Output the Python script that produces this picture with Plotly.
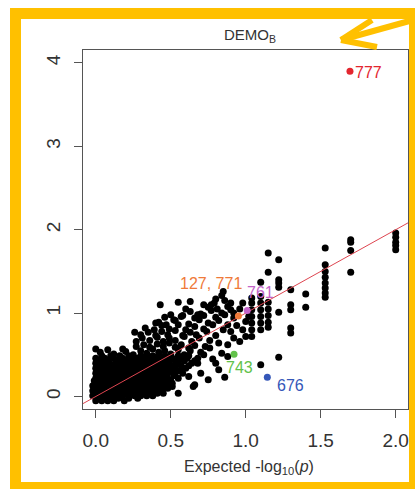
import plotly.graph_objects as go

# ---------------- data ----------------
# dense core of the QQ cloud, row by row: observed level and expected values on that row
core_obs_levels = [-0.05, -0.02, 0.01, 0.04, 0.07, 0.10, 0.13, 0.16, 0.19, 0.22, 0.25,
                   0.28, 0.31, 0.34, 0.37, 0.40, 0.43, 0.46, 0.49]
core_exp_rows = [
    [0.00, 0.04, 0.08, 0.12, 0.19],
    [0.02, 0.06, 0.10, 0.15, 0.22, 0.28],
    [-0.02, 0.02, 0.06, 0.10, 0.14, 0.18, 0.22, 0.26, 0.30, 0.34, 0.38],
    [0.00, 0.04, 0.08, 0.12, 0.16, 0.20, 0.24, 0.28, 0.32, 0.36, 0.41, 0.45],
    [-0.02, 0.02, 0.06, 0.10, 0.14, 0.18, 0.22, 0.26, 0.30, 0.34, 0.38, 0.43],
    [0.00, 0.04, 0.08, 0.12, 0.16, 0.20, 0.24, 0.28, 0.32, 0.36, 0.40, 0.44, 0.48],
    [-0.02, 0.02, 0.06, 0.10, 0.14, 0.18, 0.22, 0.26, 0.30, 0.34, 0.38, 0.42, 0.46],
    [0.00, 0.04, 0.08, 0.12, 0.16, 0.20, 0.24, 0.28, 0.32, 0.36, 0.40, 0.44, 0.48, 0.51],
    [-0.01, 0.02, 0.06, 0.10, 0.14, 0.18, 0.22, 0.26, 0.30, 0.34, 0.38, 0.42, 0.46, 0.50],
    [0.00, 0.04, 0.08, 0.12, 0.16, 0.20, 0.24, 0.28, 0.32, 0.36, 0.40, 0.44, 0.48, 0.55],
    [0.02, 0.06, 0.10, 0.14, 0.18, 0.22, 0.26, 0.30, 0.34, 0.38, 0.42, 0.46, 0.52],
    [0.00, 0.04, 0.08, 0.12, 0.16, 0.20, 0.24, 0.28, 0.32, 0.36, 0.40, 0.44, 0.48, 0.53, 0.58],
    [0.02, 0.06, 0.10, 0.14, 0.18, 0.22, 0.26, 0.30, 0.34, 0.38, 0.42, 0.46, 0.50, 0.56],
    [0.00, 0.04, 0.08, 0.12, 0.16, 0.20, 0.24, 0.28, 0.32, 0.36, 0.40, 0.44, 0.48, 0.53, 0.60],
    [0.02, 0.06, 0.10, 0.14, 0.18, 0.22, 0.26, 0.30, 0.34, 0.38, 0.42, 0.46, 0.51, 0.57, 0.62],
    [0.00, 0.05, 0.09, 0.13, 0.17, 0.21, 0.25, 0.29, 0.33, 0.37, 0.41, 0.45, 0.49, 0.55, 0.64],
    [0.02, 0.08, 0.15, 0.20, 0.24, 0.28, 0.32, 0.36, 0.40, 0.44, 0.48, 0.53, 0.59, 0.66],
    [0.00, 0.06, 0.12, 0.18, 0.23, 0.27, 0.31, 0.35, 0.39, 0.43, 0.47, 0.51, 0.56, 0.61, 0.68],
    [0.04, 0.10, 0.16, 0.22, 0.30, 0.34, 0.38, 0.42, 0.46, 0.50, 0.55, 0.62],
]

# upper part of the diagonal band (irregular points)
band_exp = [0.03, 0.12, 0.20, 0.25, 0.30, 0.34, 0.38, 0.42, 0.46, 0.50, 0.55, 0.59, 0.63, 0.70,
            0.00, 0.08, 0.18, 0.27, 0.32, 0.36, 0.41, 0.45, 0.49, 0.53, 0.57, 0.62, 0.66, 0.73,
            0.27, 0.31, 0.36, 0.41, 0.45, 0.49, 0.53, 0.59, 0.64, 0.69, 0.76,
            0.30, 0.35, 0.40, 0.44, 0.48, 0.53, 0.58, 0.63, 0.67, 0.74, 0.80,
            0.26, 0.33, 0.39, 0.44, 0.49, 0.55, 0.60, 0.66, 0.72, 0.78, 0.85,
            0.42, 0.47, 0.53, 0.62, 0.69, 0.75, 0.82, 0.88,
            0.40, 0.46, 0.52, 0.58, 0.66, 0.72, 0.80, 0.86, 0.92,
            0.57, 0.63, 0.70, 0.77, 0.84, 0.90,
            0.50, 0.60, 0.68, 0.75, 0.81, 0.88,
            0.55, 0.72, 0.79, 0.86,
            0.43, 0.63, 0.77, 0.80,
            0.84, 0.85]
band_obs = [0.53, 0.51, 0.54, 0.50, 0.55, 0.52, 0.57, 0.53, 0.55, 0.51, 0.56, 0.50, 0.55, 0.53,
            0.57, 0.56, 0.57, 0.60, 0.62, 0.59, 0.63, 0.60, 0.64, 0.59, 0.62, 0.58, 0.61, 0.60,
            0.66, 0.70, 0.67, 0.71, 0.66, 0.70, 0.67, 0.72, 0.66, 0.70, 0.67,
            0.74, 0.77, 0.73, 0.78, 0.74, 0.79, 0.73, 0.77, 0.74, 0.78, 0.73,
            0.77, 0.82, 0.80, 0.85, 0.81, 0.86, 0.80, 0.84, 0.81, 0.86, 0.80,
            0.89, 0.86, 0.91, 0.87, 0.92, 0.88, 0.91, 0.86,
            0.88, 0.95, 0.92, 0.97, 0.94, 0.97, 0.95, 0.98, 0.94,
            0.96, 1.02, 0.99, 1.03, 1.00, 1.04,
            0.98, 1.05, 0.98, 1.07, 1.05, 1.08,
            1.13, 1.10, 1.12, 1.15,
            1.10, 1.14, 1.10, 1.17,
            1.21, 1.26]

# scattered points below / around the diagonal band
mid_exp = [0.38, 0.44, 0.55, 0.65, 0.51, 0.66, 0.82, 0.75, 0.62, 0.53, 0.86, 0.70,
           0.78, 0.84, 0.76, 0.82, 0.88, 0.80, 0.72, 0.68,
           0.88, 0.92, 0.96, 0.90, 0.94, 0.98, 1.00, 1.00, 1.02, 0.96, 0.92, 0.98, 0.90,
           1.04, 1.04, 1.04, 1.04, 1.04, 1.04, 1.04]
mid_obs = [0.02, 0.10, 0.04, 0.12, 0.12, 0.14, 0.32, 0.20, 0.24, 0.32, 0.23, 0.28,
           0.45, 0.52, 0.58, 0.64, 0.48, 0.40, 0.50, 0.40,
           0.62, 0.70, 0.66, 0.78, 0.85, 0.80, 0.72, 0.90, 0.96, 1.05, 1.00, 1.12, 1.12,
           0.80, 0.88, 0.96, 1.04, 1.12, 1.18, 0.72]

# upper tail (tied expected values form columns)
tail_exp = [1.10, 1.10, 1.10, 1.10, 1.10, 1.10, 1.10, 1.10,
            1.15, 1.15, 1.15, 1.15, 1.15, 1.15, 1.15,
            1.22, 1.22, 1.22, 1.22, 1.22, 1.22,
            1.30, 1.30, 1.30, 1.30, 1.30,
            1.40, 1.40,
            1.53, 1.53, 1.53, 1.53, 1.53, 1.53, 1.53, 1.53,
            1.70, 1.70, 1.70, 1.70,
            2.00, 2.00, 2.00, 2.00, 2.00]
tail_obs = [0.80, 0.88, 0.96, 1.04, 1.12, 1.20, 1.37, 0.38,
            0.83, 0.89, 0.97, 1.05, 1.13, 1.49, 1.72,
            1.64, 1.40, 1.36, 1.31, 1.01, 0.47,
            1.28, 1.10, 1.04, 0.82, 0.76,
            1.23, 1.07,
            1.78, 1.58, 1.50, 1.43, 1.36, 1.30, 1.24, 1.19,
            1.88, 1.85, 1.75, 1.49,
            1.96, 1.91, 1.85, 1.81, 1.76]

# highlighted SNPs
hl_ids = ["777", "127, 771", "761", "743", "676"]
hl_exp = [1.695, 0.951, 1.01, 0.922, 1.144]
hl_obs = [3.90, 0.965, 1.03, 0.506, 0.23]
hl_colors = ["#e3262f", "#ef7a3a", "#c364c8", "#62c24a", "#3557b8"]
hl_label_exp = [1.82, 0.77, 1.10, 0.96, 1.30]
hl_label_obs = [3.89, 1.35, 1.25, 0.35, 0.13]

x_ticks = [0.0, 0.5, 1.0, 1.5, 2.0]
y_ticks = [0, 1, 2, 3, 4]
x_range = [-0.085, 2.082]
y_range = [-0.15, 4.155]

# ---------------- figure ----------------
W, H = 416, 489
ML, MR, MT, MB = 83, 8, 50, 80
PW, PH = W - ML - MR, H - MT - MB


def px(xp):
    return (xp - ML) / PW


def py(yp):
    return (H - MB - yp) / PH


core_x, core_y = [], []
for lvl, row in zip(core_obs_levels, core_exp_rows):
    for v in row:
        core_x.append(v)
        core_y.append(lvl)

all_x = core_x + band_exp + mid_exp + tail_exp
all_y = core_y + band_obs + mid_obs + tail_obs

font = "Liberation Sans, Arial, sans-serif"
fig = go.Figure()

fig.add_trace(go.Scatter(x=all_x, y=all_y, mode="markers",
                         marker=dict(size=7, color="black"), showlegend=False))

fig.add_trace(go.Scatter(x=x_range, y=x_range, mode="lines",
                         line=dict(color="#de4550", width=1), showlegend=False))

fig.add_trace(go.Scatter(x=hl_exp, y=hl_obs, mode="markers",
                         marker=dict(size=7, color=hl_colors), showlegend=False))

yellow = "#FFC000"
shapes = [
    dict(type="rect", xref="paper", yref="paper", x0=px(10), x1=px(21), y0=py(489), y1=py(8),
         fillcolor=yellow, line=dict(width=0), layer="above"),
    dict(type="rect", xref="paper", yref="paper", x0=px(10), x1=px(415), y0=py(19), y1=py(8),
         fillcolor=yellow, line=dict(width=0), layer="above"),
    dict(type="rect", xref="paper", yref="paper", x0=px(409), x1=px(415), y0=py(489), y1=py(8),
         fillcolor=yellow, line=dict(width=0), layer="above"),
    dict(type="rect", xref="paper", yref="paper", x0=px(10), x1=px(415), y0=py(489), y1=py(482),
         fillcolor=yellow, line=dict(width=0), layer="above"),
    # arrow
    dict(type="line", xref="paper", yref="paper", x0=px(341), y0=py(40), x1=px(413), y1=py(20),
         line=dict(color=yellow, width=6), layer="above"),
    dict(type="line", xref="paper", yref="paper", x0=px(341), y0=py(40), x1=px(372), y1=py(20),
         line=dict(color=yellow, width=6), layer="above"),
    dict(type="line", xref="paper", yref="paper", x0=px(341), y0=py(40), x1=px(377), y1=py(47),
         line=dict(color=yellow, width=6), layer="above"),
]

annotations = [
    dict(text="DEMO<sub>B</sub>", xref="paper", yref="paper", x=px(250), y=py(36),
         showarrow=False, font=dict(family=font, size=15, color="#333"),
         xanchor="center", yanchor="middle"),
    dict(text="Expected -log<sub>10</sub>(<i>p</i>)", xref="paper", yref="paper",
         x=px(249), y=py(467), showarrow=False,
         font=dict(family=font, size=16, color="#333"), xanchor="center", yanchor="middle"),
]
for i in range(len(hl_ids)):
    annotations.append(dict(text=hl_ids[i], x=hl_label_exp[i], y=hl_label_obs[i],
                            xref="x", yref="y", showarrow=False,
                            font=dict(family=font, size=16, color=hl_colors[i]),
                            xanchor="center", yanchor="middle"))

axis_common = dict(showgrid=False, zeroline=False, showline=True, mirror=True,
                   linecolor="#555", linewidth=1, ticks="outside", ticklen=8,
                   tickcolor="#555", tickfont=dict(family=font, size=19, color="#333"))

fig.update_layout(
    width=W, height=H, margin=dict(l=ML, r=MR, t=MT, b=MB),
    paper_bgcolor="white", plot_bgcolor="white",
    xaxis=dict(range=x_range, tickvals=x_ticks, tickformat=".1f",
               ticklabelstandoff=6, **axis_common),
    yaxis=dict(range=y_range, tickvals=y_ticks, tickangle=-90,
               ticklabelstandoff=6, **axis_common),
    shapes=shapes, annotations=annotations, showlegend=False,
)

fig.write_html("out.html")
